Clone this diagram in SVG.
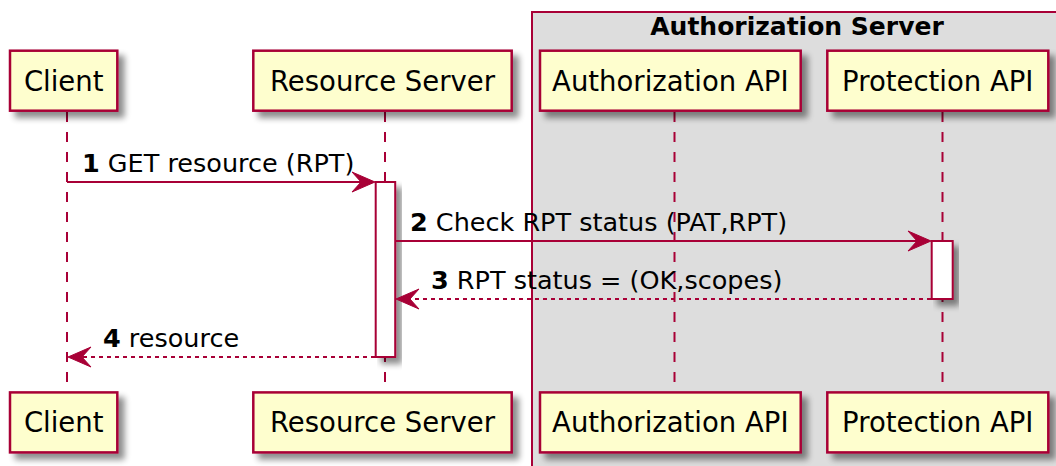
<svg xmlns="http://www.w3.org/2000/svg" width="1056" height="466" viewBox="0 0 1056 466">
<defs>
<filter id="sh" x="-20%" y="-20%" width="150%" height="160%">
<feGaussianBlur in="SourceAlpha" stdDeviation="3" result="b"/>
<feOffset in="b" dx="6" dy="6" result="o"/>
<feComponentTransfer in="o" result="s"><feFuncA type="linear" slope="0.45"/></feComponentTransfer>
<feMerge><feMergeNode in="s"/><feMergeNode in="SourceGraphic"/></feMerge>
</filter>
<style>
.p rect{fill:#FEFECE;stroke:#A80036;stroke-width:2.5;filter:url(#sh)}
.p text{font-family:"DejaVu Sans",sans-serif;font-size:27.5px;text-anchor:middle;fill:#000}
.life{stroke:#A80036;stroke-width:2;stroke-dasharray:10,10;fill:none}
.act{fill:#FFFFFF;stroke:#A80036;stroke-width:2;filter:url(#sh)}
.msg{stroke:#A80036;stroke-width:2;fill:none}
.ret{stroke-dasharray:4,4}
.ah{fill:#A80036;stroke:#A80036;stroke-width:1}
.lbl{font-family:"DejaVu Sans",sans-serif;font-size:25.5px;fill:#000}
.grp{fill:#DDDDDD;stroke:#A80036;stroke-width:2}
.gt{font-family:"DejaVu Sans",sans-serif;font-size:25px;font-weight:bold;text-anchor:middle;fill:#000}
</style>
</defs>
<rect width="1056" height="466" fill="#FFFFFF"/>
<g id="authorization-server-box">
<rect class="grp" x="532" y="12" width="540" height="470"/>
<text class="gt" x="797" y="35">Authorization Server</text>
</g>
<g id="lifelines">
<line class="life" x1="67" y1="112" x2="67" y2="392"/>
<line class="life" x1="385" y1="112" x2="385" y2="392"/>
<line class="life" x1="674.5" y1="112" x2="674.5" y2="392"/>
<line class="life" x1="942.5" y1="112" x2="942.5" y2="392"/>
</g>
<g id="activations">
<rect class="act" x="375.7" y="182" width="19.5" height="175"/>
<rect class="act" x="931.7" y="241" width="21" height="58"/>
</g>
<g id="client" class="p">
<rect x="10" y="50.7" width="107.3" height="60"/>
<text x="63.7" y="90.5">Client</text>
<rect x="10" y="392.4" width="107.3" height="60"/>
<text x="63.7" y="432.2">Client</text>
</g>
<g id="resource-server" class="p">
<rect x="253.3" y="50.7" width="258.4" height="60"/>
<text x="382.5" y="90.5">Resource Server</text>
<rect x="253.3" y="392.4" width="258.4" height="60"/>
<text x="382.5" y="432.2">Resource Server</text>
</g>
<g id="authorization-api" class="p">
<rect x="540" y="50.7" width="260.7" height="60"/>
<text x="670.3" y="90.5">Authorization API</text>
<rect x="540" y="392.4" width="260.7" height="60"/>
<text x="670.3" y="432.2">Authorization API</text>
</g>
<g id="protection-api" class="p">
<rect x="827.3" y="50.7" width="221" height="60"/>
<text x="937.8" y="90.5">Protection API</text>
<rect x="827.3" y="392.4" width="221" height="60"/>
<text x="937.8" y="432.2">Protection API</text>
</g>
<g id="connectors">
<line class="msg" x1="67" y1="182" x2="372" y2="182"/>
<polygon class="ah" points="352,172 375,182 352,192 361,182"/>
<text class="lbl" x="82" y="172"><tspan font-weight="bold">1</tspan> GET resource (RPT)</text>

<line class="msg" x1="395" y1="241" x2="928" y2="241"/>
<polygon class="ah" points="908,231 931,241 908,251 917,241"/>
<text class="lbl" x="410" y="231"><tspan font-weight="bold">2</tspan> Check RPT status (PAT,RPT)</text>

<line class="msg ret" x1="931" y1="299" x2="399" y2="299"/>
<polygon class="ah" points="419,289 396,299 419,309 410,299"/>
<text class="lbl" x="431" y="289"><tspan font-weight="bold">3</tspan> RPT status = (OK,scopes)</text>

<line class="msg ret" x1="375" y1="357" x2="71" y2="357"/>
<polygon class="ah" points="91,347 68,357 91,367 82,357"/>
<text class="lbl" x="103" y="347"><tspan font-weight="bold">4</tspan> resource</text>
</g>
</svg>
